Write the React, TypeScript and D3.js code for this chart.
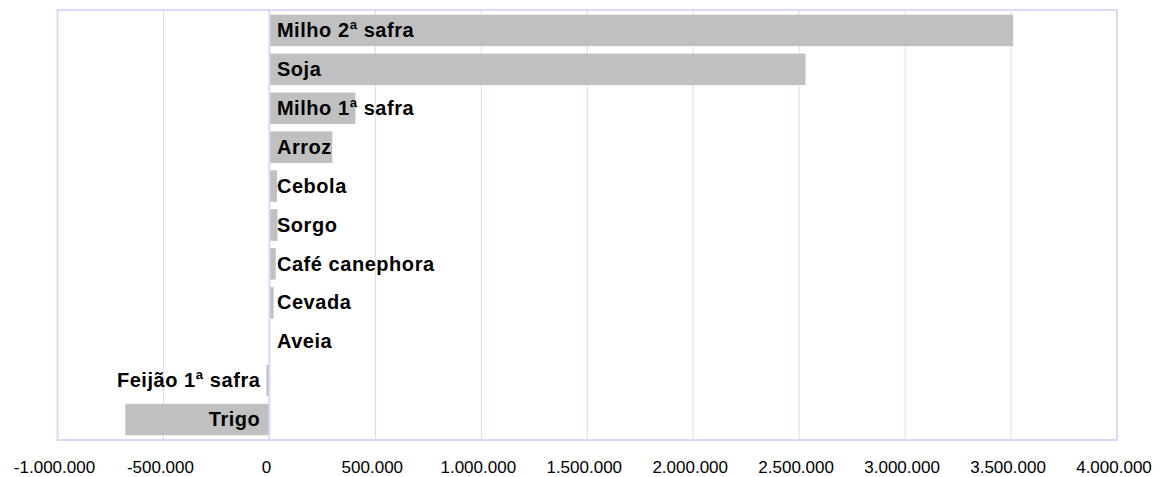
import React from "react";
import * as d3 from "d3";

const categories = [
  "Milho 2ª safra",
  "Soja",
  "Milho 1ª safra",
  "Arroz",
  "Cebola",
  "Sorgo",
  "Café canephora",
  "Cevada",
  "Aveia",
  "Feijão 1ª safra",
  "Trigo",
];
const values = [3510000, 2530000, 406000, 297000, 36000, 38000, 30000, 20000, 2000, -14000, -680000];
const tickValues = [-1000000, -500000, 0, 500000, 1000000, 1500000, 2000000, 2500000, 3000000, 3500000, 4000000];

const W = 1162;
const H = 477;
const M = { left: 57.5, right: 1117, top: 10, bottom: 440 };

const fmt = (v: number) => {
  const s = d3.format(",")(Math.abs(v)).replace(/,/g, ".");
  return v < 0 ? "-" + s : s;
};

export default function App() {
  const x = d3.scaleLinear().domain([-1000000, 4000000]).range([M.left, M.right]);
  const y = d3
    .scaleBand<string>()
    .domain(categories)
    .range([M.top, M.bottom])
    .paddingInner(0.19)
    .paddingOuter(0.12);
  const grid = "#d9d9fb";
  const x0 = x(0);
  return (
    <svg
      width={W}
      height={H}
      style={{ position: "absolute", left: 0, top: 0, fontFamily: "'Liberation Sans', Arial, sans-serif" }}
    >
      <rect x={0} y={0} width={W} height={H} fill="#fff" />
      {tickValues.map((t) => (
        <line key={t} x1={x(t)} x2={x(t)} y1={M.top} y2={M.bottom} stroke={grid} strokeWidth={1} />
      ))}
      <rect
        x={M.left}
        y={M.top}
        width={M.right - M.left}
        height={M.bottom - M.top}
        fill="none"
        stroke={grid}
        strokeWidth={2}
      />
      {categories.map((c, i) => {
        const v = values[i];
        const bx = Math.min(x(v), x0);
        const bw = Math.abs(x(v) - x0);
        const by = y(c)!;
        const bh = y.bandwidth();
        return (
          <g key={c}>
            <rect x={bx} y={by} width={bw} height={bh} fill="#c0c0c0" />
            <text
              x={v >= 0 ? x0 + 7.5 : x0 - 9}
              y={by + bh / 2}
              dy="0.33em"
              textAnchor={v >= 0 ? "start" : "end"}
              fontWeight="bold"
              fontSize={20}
              letterSpacing={0.55}
              fill="#000"
            >
              {c}
            </text>
          </g>
        );
      })}
      <line x1={x0} x2={x0} y1={M.top} y2={M.bottom} stroke={grid} strokeWidth={2} />
      {tickValues.map((t) => (
        <text key={"l" + t} x={x(t) - 3} y={473} textAnchor="middle" fontSize={17} fill="#000">
          {fmt(t)}
        </text>
      ))}
    </svg>
  );
}
